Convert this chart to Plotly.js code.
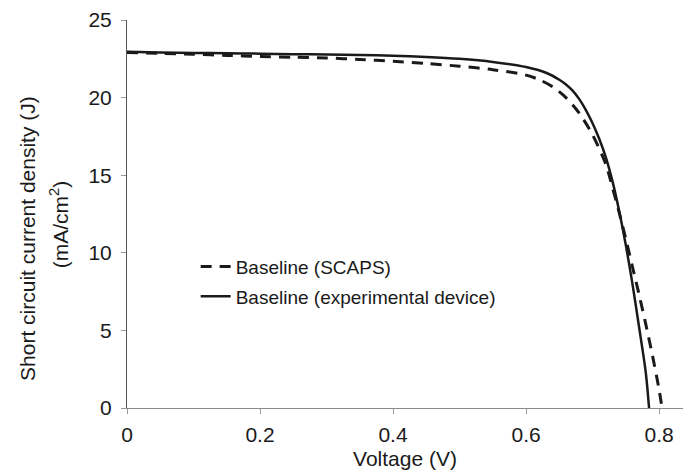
<!DOCTYPE html>
<html>
<head>
<meta charset="utf-8">
<script src="https://cdn.plot.ly/plotly-3.0.1.min.js"></script>
<style>
html,body{margin:0;padding:0;background:#fff;}
#chart{width:683px;height:472px;}
</style>
</head>
<body>
<div id="chart"></div>
<script>
// Baseline (SCAPS) simulated J-V curve
const scapsV = [0, 0.05, 0.1, 0.15, 0.2, 0.25, 0.3, 0.35, 0.4, 0.45, 0.5, 0.55, 0.6, 0.62, 0.64, 0.66, 0.68, 0.70, 0.72, 0.73, 0.74, 0.75, 0.76, 0.77, 0.78, 0.79, 0.80, 0.8045];
const scapsJ = [22.9, 22.85, 22.8, 22.72, 22.65, 22.6, 22.55, 22.46, 22.34, 22.2, 22.02, 21.8, 21.45, 21.15, 20.7, 20.0, 19.0, 17.6, 15.7, 14.2, 12.6, 10.9, 9.1, 7.3, 5.4, 3.4, 1.2, 0];

// Baseline (experimental device) measured J-V curve
const expV = [0, 0.05, 0.1, 0.15, 0.2, 0.25, 0.3, 0.35, 0.4, 0.45, 0.5, 0.55, 0.6, 0.63, 0.65, 0.66, 0.67, 0.68, 0.69, 0.70, 0.71, 0.72, 0.73, 0.74, 0.75, 0.76, 0.77, 0.78, 0.785];
const expJ = [22.95, 22.9, 22.88, 22.86, 22.83, 22.8, 22.78, 22.75, 22.7, 22.62, 22.5, 22.3, 21.97, 21.6, 21.15, 20.85, 20.45, 19.9, 19.2, 18.35, 17.35, 16.15, 14.6, 12.7, 10.5, 8.0, 5.2, 2.3, 0];

const seriesNames = ["Baseline (SCAPS)", "Baseline (experimental device)"];
const xTickVals = [0, 0.2, 0.4, 0.6, 0.8];
const xTickText = ["0", "0.2", "0.4", "0.6", "0.8"];
const yTickVals = [0, 5, 10, 15, 20, 25];
const xTitle = "Voltage (V)";
const yTitleLine1 = "Short circuit current density (J)";
const yTitleLine2 = "(mA/cm<sup>2</sup>)";

const FONT = "Liberation Sans, Arial, Helvetica, sans-serif";
const INK = "#1a1a1a";

const traces = [
  {
    x: scapsV, y: scapsJ, name: seriesNames[0], type: "scatter", mode: "lines",
    line: {color: INK, width: 3, dash: "11px,8px", shape: "spline", smoothing: 0.8},
    legendgroup: "a"
  },
  {
    x: expV, y: expJ, name: seriesNames[1], type: "scatter", mode: "lines",
    line: {color: INK, width: 2.5, shape: "spline", smoothing: 0.8},
    legendgroup: "b"
  }
];

const layout = {
  width: 683, height: 472,
  margin: {l: 127, r: 0, t: 20, b: 64, pad: 0},
  paper_bgcolor: "#fff", plot_bgcolor: "#fff",
  font: {family: FONT, color: INK, size: 20},
  showlegend: true,
  legend: {
    x: 0.1235, y: 0.413, xanchor: "left", yanchor: "top",
    bgcolor: "rgba(0,0,0,0)", borderwidth: 0,
    font: {family: FONT, size: 19, color: INK},
    traceorder: "grouped", tracegroupgap: 2
  },
  xaxis: {
    range: [0, 0.836], tickvals: xTickVals, ticktext: xTickText,
    showgrid: false, zeroline: false,
    showline: true, linecolor: "#8a8a8a", linewidth: 1,
    ticks: "outside", ticklen: 5, tickcolor: "#9a9a9a", tickwidth: 1,
    ticklabelstandoff: 3,
    tickfont: {family: FONT, size: 21, color: INK},
    title: {text: xTitle, font: {family: FONT, size: 21, color: INK}, standoff: 6}
  },
  yaxis: {
    range: [0, 25], tickvals: yTickVals,
    showgrid: false, zeroline: false,
    showline: true, linecolor: "#555", linewidth: 1,
    ticks: "outside", ticklen: 5, tickcolor: "#9a9a9a", tickwidth: 1,
    ticklabelstandoff: 5,
    tickfont: {family: FONT, size: 21, color: INK}
  },
  annotations: [
    {text: yTitleLine1, xref: "paper", yref: "paper", x: -0.18, y: 0.438,
     xanchor: "center", yanchor: "middle", textangle: -90, showarrow: false,
     font: {family: FONT, size: 21, color: INK}},
    {text: yTitleLine2, xref: "paper", yref: "paper", x: -0.122, y: 0.474,
     xanchor: "center", yanchor: "middle", textangle: -90, showarrow: false,
     font: {family: FONT, size: 21, color: INK}}
  ]
};

Plotly.newPlot("chart", traces, layout, {displayModeBar: false, staticPlot: true});
</script>
</body>
</html>
